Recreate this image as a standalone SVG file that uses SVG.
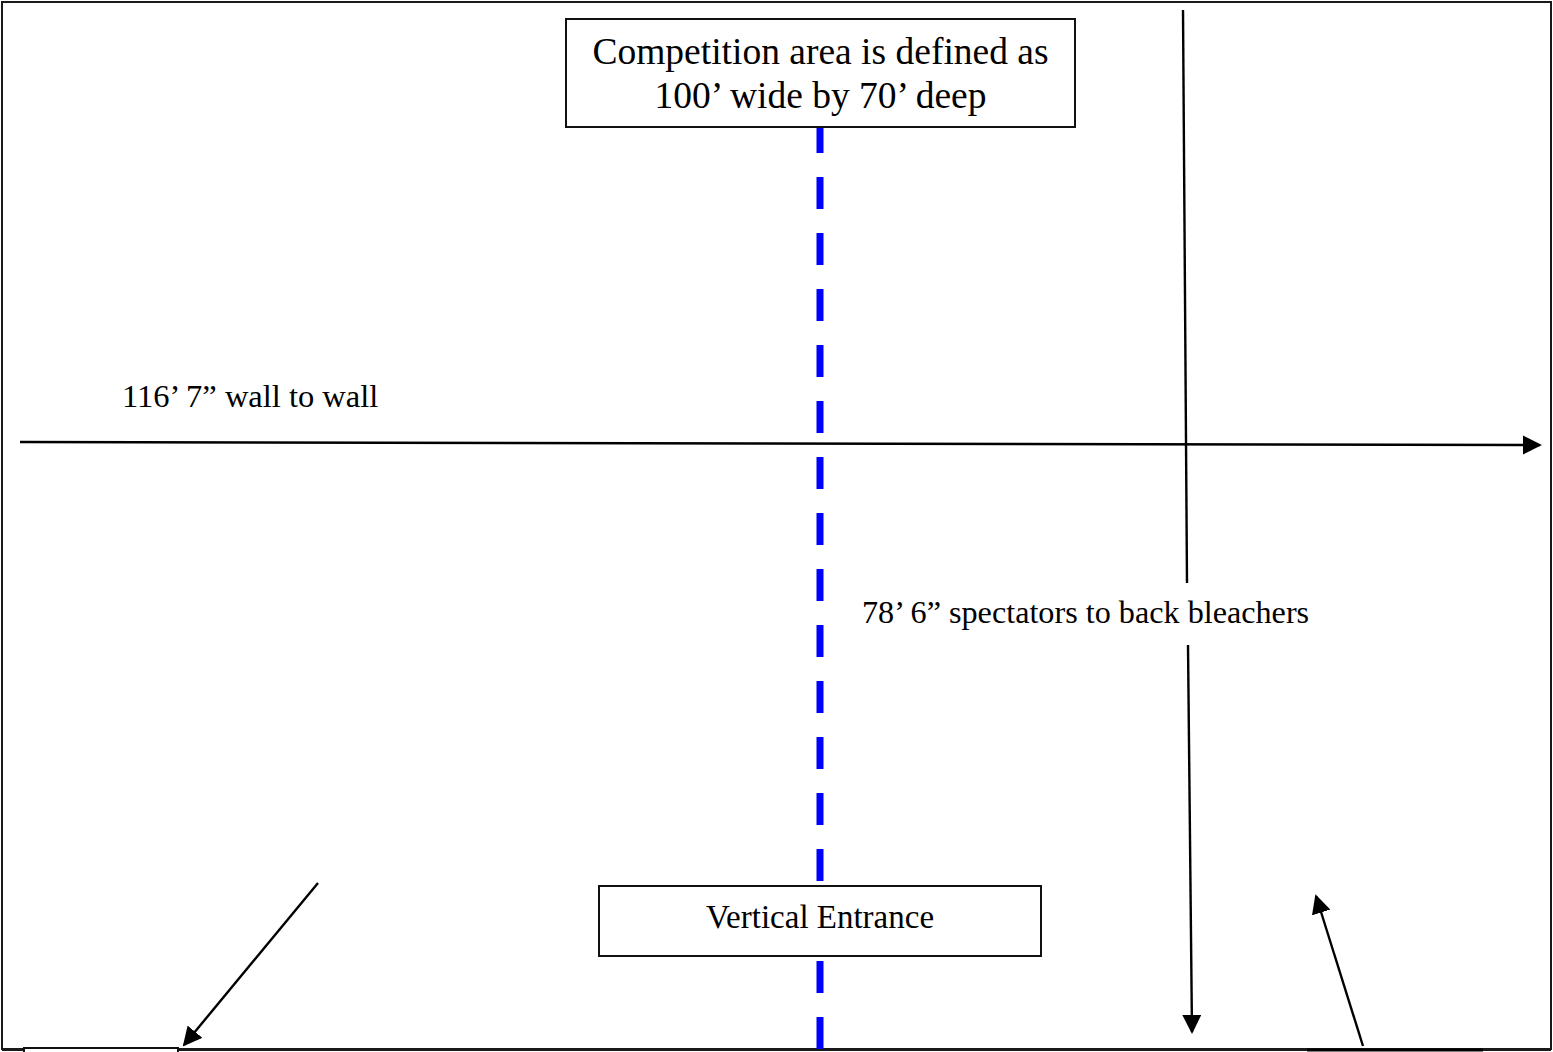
<svg xmlns="http://www.w3.org/2000/svg" width="1553" height="1052" viewBox="0 0 1553 1052">
<style>
.frame{fill:#fff;stroke:#1a1a1a;stroke-width:2}
.box{fill:#fff;stroke:#111;stroke-width:2}
.ln{stroke:#000;stroke-width:2.4;fill:none}
.dash{stroke:#0000ff;stroke-width:7;stroke-dasharray:32 24;fill:none}
.t{font-family:"Liberation Serif","Times New Roman",serif;fill:#000}
</style>
<defs>
<marker id="ah2" viewBox="0 0 10 10" refX="9" refY="5" markerWidth="8" markerHeight="8" orient="auto">
<path d="M0,0 L10,5 L0,10 z" fill="#000"/>
</marker>
</defs>
<rect x="0" y="0" width="1553" height="1052" fill="#fff"/>
<rect class="frame" x="2" y="2" width="1549" height="1047"/>
<line x1="2" y1="1049.5" x2="1551" y2="1049.5" stroke="#1a1a1a" stroke-width="3"/>
<rect x="24" y="1048" width="154" height="10" fill="#fff" stroke="#111" stroke-width="2"/>
<line x1="1307" y1="1050" x2="1483" y2="1050" stroke="#000" stroke-width="3"/>
<g id="connectors">
<line class="dash" x1="820" y1="121" x2="820" y2="1049"/>
<line class="ln" x1="20" y1="442" x2="1540" y2="445" marker-end="url(#ah2)"/>
<line class="ln" x1="1183" y1="10" x2="1187" y2="583"/>
<line class="ln" x1="1188" y1="645" x2="1192" y2="1032" marker-end="url(#ah2)"/>
<line class="ln" x1="318" y1="883" x2="184" y2="1045" marker-end="url(#ah2)"/>
<line class="ln" x1="1363" y1="1046" x2="1316" y2="896" marker-end="url(#ah2)"/>
</g>
<g id="competition-area">
<rect class="box" x="566" y="19" width="509" height="108"/>
<text class="t" x="820.5" y="64" font-size="37.5" text-anchor="middle">Competition area is defined as</text>
<text class="t" x="820.5" y="108" font-size="37.5" text-anchor="middle">100’ wide by 70’ deep</text>
</g>
<g id="vertical-entrance">
<rect class="box" x="599" y="886" width="442" height="70"/>
<text class="t" x="820" y="928" font-size="33" text-anchor="middle">Vertical Entrance</text>
</g>
<g id="width-label">
<text class="t" x="122" y="407" font-size="32.5">116’ 7” wall to wall</text>
</g>
<g id="depth-label">
<text class="t" x="862" y="623" font-size="32.2">78’ 6” spectators to back bleachers</text>
</g>
</svg>
